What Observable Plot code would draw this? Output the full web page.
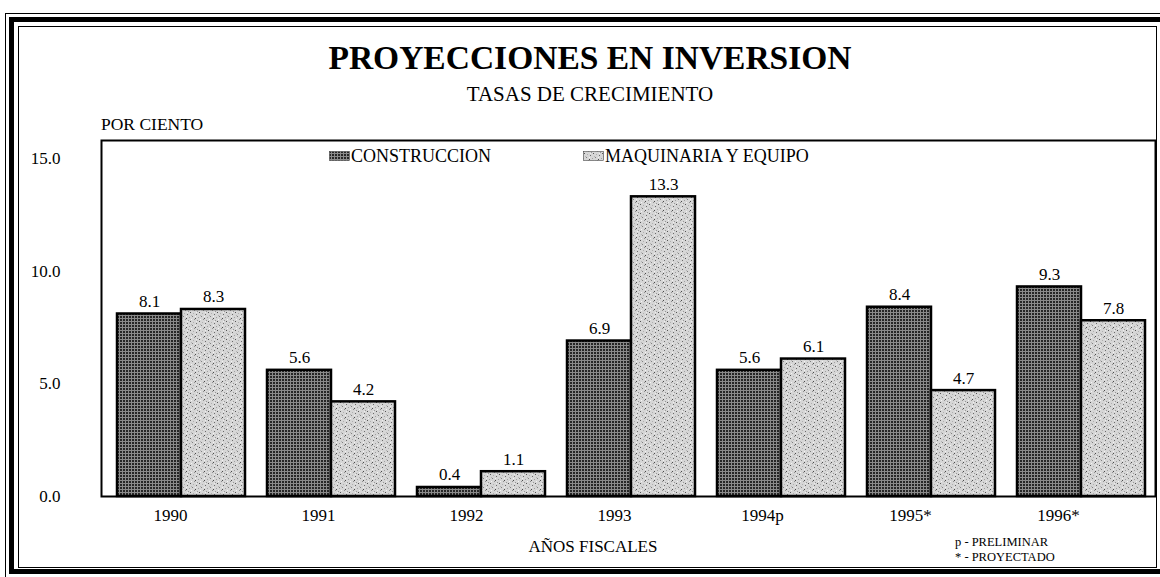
<!DOCTYPE html>
<html>
<head>
<meta charset="utf-8">
<script src="https://cdn.jsdelivr.net/npm/d3@7"></script>
<script src="https://cdn.jsdelivr.net/npm/@observablehq/plot@0.6"></script>
<style>
  html, body { margin:0; padding:0; background:#fff; }
  #wrap { position:relative; width:1160px; height:577px; overflow:hidden; font-family:"Liberation Serif","Times New Roman",serif; color:#000; }
  .abs { position:absolute; }
  .b1 { left:5px; top:13px; width:1200px; height:600px; border:1.5px solid #000; }
  .b2 { left:9px; top:17px; width:1200px; height:547px; border:5px solid #000; border-right:none; }
  .b3 { left:18px; top:26px; width:1137px; height:540px; border:1.5px solid #000; }
  #title { left:0; width:1180px; top:38px; text-align:center; font-weight:bold; font-size:33.5px; line-height:40px; white-space:nowrap; }
  #subtitle { left:0; width:1180px; top:81px; text-align:center; font-size:21px; line-height:26px; white-space:nowrap; }
  #ylab { left:101px; top:114px; font-size:17.5px; line-height:20px; white-space:nowrap; }
  .leg { top:146px; font-size:18px; line-height:20px; white-space:nowrap; display:flex; align-items:center; }
  .leg svg { margin-right:1px; }
  #xtitle { left:0; width:1186px; top:537px; text-align:center; font-size:17px; line-height:20px; white-space:nowrap; }
  #notes { left:955px; top:535px; font-size:12.5px; line-height:15px; white-space:nowrap; background:#fff; padding-right:2px; }
</style>
</head>
<body>
<svg width="0" height="0" style="position:absolute">
  <defs>
    <pattern id="pat-constr" width="3" height="3" patternUnits="userSpaceOnUse">
      <rect width="3" height="3" fill="#8a8a8a"/>
      <rect width="2" height="2" fill="#262626"/>
    </pattern>
    <pattern id="pat-maq" width="9" height="9" patternUnits="userSpaceOnUse">
      <rect width="9" height="9" fill="#d6d6d6"/>
      <rect x="1" y="2" width="1" height="1" fill="#555"/>
      <rect x="5" y="0" width="1" height="1" fill="#909090"/>
      <rect x="7" y="4" width="1" height="1" fill="#6a6a6a"/>
      <rect x="3" y="6" width="1" height="1" fill="#808080"/>
      <rect x="0" y="7" width="1" height="1" fill="#a0a0a0"/>
      <rect x="6" y="8" width="1" height="1" fill="#4a4a4a"/>
      <rect x="4" y="3" width="1" height="1" fill="#b0b0b0"/>
      <rect x="8" y="1" width="1" height="1" fill="#999"/>
      <rect x="2" y="5" width="1" height="1" fill="#b4b4b4"/>
      <rect x="6" y="6" width="1" height="1" fill="#f4f4f4"/>
      <rect x="2" y="0" width="1" height="1" fill="#f4f4f4"/>
      <rect x="7" y="2" width="1" height="1" fill="#eeeeee"/>
    </pattern>
  </defs>
</svg>
<div id="wrap">
  <div class="abs b1"></div>
  <div class="abs b2"></div>
  <div class="abs b3"></div>
  <div class="abs" id="title">PROYECCIONES EN INVERSION</div>
  <div class="abs" id="subtitle">TASAS DE CRECIMIENTO</div>
  <div class="abs" id="ylab">POR CIENTO</div>
  <div class="abs" id="chart" style="left:0;top:130px;"></div>
  <div class="abs" id="xaxis" style="left:0;top:508px;"></div>
  <div class="abs leg" id="leg0" style="left:329px;"></div>
  <div class="abs leg" id="leg1" style="left:583px;"></div>
  <div class="abs" id="xtitle">AÑOS FISCALES</div>
  <div class="abs" id="notes">p - PRELIMINAR<br>* - PROYECTADO</div>
</div>
<script>
// ---- data ----
const years = ["1990", "1991", "1992", "1993", "1994p", "1995*", "1996*"];
const series = ["CONSTRUCCION", "MAQUINARIA Y EQUIPO"];
const construccion = [8.1, 5.6, 0.4, 6.9, 5.6, 8.4, 9.3];
const maquinaria = [8.3, 4.2, 1.1, 13.3, 6.1, 4.7, 7.8];
const yTicks = [0, 5, 10, 15];
const fills = ["url(#pat-constr)", "url(#pat-maq)"];

const data = years.flatMap((yr, i) => [
  {year: yr, serie: series[0], value: construccion[i]},
  {year: yr, serie: series[1], value: maquinaria[i]}
]);

const font = "Liberation Serif, Times New Roman, serif";

const chart = Plot.plot({
  width: 1160,
  height: 380,
  marginLeft: 117,
  marginRight: 15,
  marginTop: 10,
  marginBottom: 14,
  style: {fontFamily: font, fontSize: "17px", background: "transparent", color: "#000", overflow: "visible"},
  fx: {domain: years, paddingInner: 0.147, paddingOuter: 0, axis: null, label: null},
  x: {domain: series, padding: 0, axis: null},
  y: {domain: [0, 15.8], ticks: yTicks, tickFormat: d => d.toFixed(1), tickSize: 0, tickPadding: 57, label: null},
  color: {domain: series, range: fills},
  marks: [
    Plot.barY(data, {fx: "year", x: "serie", y: "value", fill: "serie", stroke: "#000", strokeWidth: 2.5}),
    Plot.text(data, {fx: "year", x: "serie", y: "value", text: d => d.value.toFixed(1), lineAnchor: "bottom", dy: -7, fill: "#000", fontSize: 17}),
    Plot.frame({facet: "super", stroke: "#000", strokeWidth: 2, insetLeft: -16, insetRight: -10})
  ]
});
document.getElementById("chart").appendChild(chart);

// x labels row (as printed in the source, slightly offset from group centers)
const xaxis = Plot.plot({
  width: 1160,
  height: 24,
  margin: 0,
  style: {fontFamily: font, fontSize: "17px", background: "transparent", color: "#000", overflow: "visible"},
  x: {type: "point", domain: years, range: [170, 1058], padding: 0, axis: null},
  marks: [
    Plot.text(years, {x: d => d, text: d => d, frameAnchor: "top", lineAnchor: "top", fill: "#000", fontSize: 17})
  ]
});
document.getElementById("xaxis").appendChild(xaxis);

// legend
series.forEach((s, i) => {
  const el = document.getElementById("leg" + i);
  el.innerHTML = `<svg width="21" height="10"><rect x="0.5" y="0.5" width="20" height="9" fill="${fills[i]}" stroke="#444" stroke-width="0.6"/></svg><span>${s}</span>`;
});
</script>
</body>
</html>
